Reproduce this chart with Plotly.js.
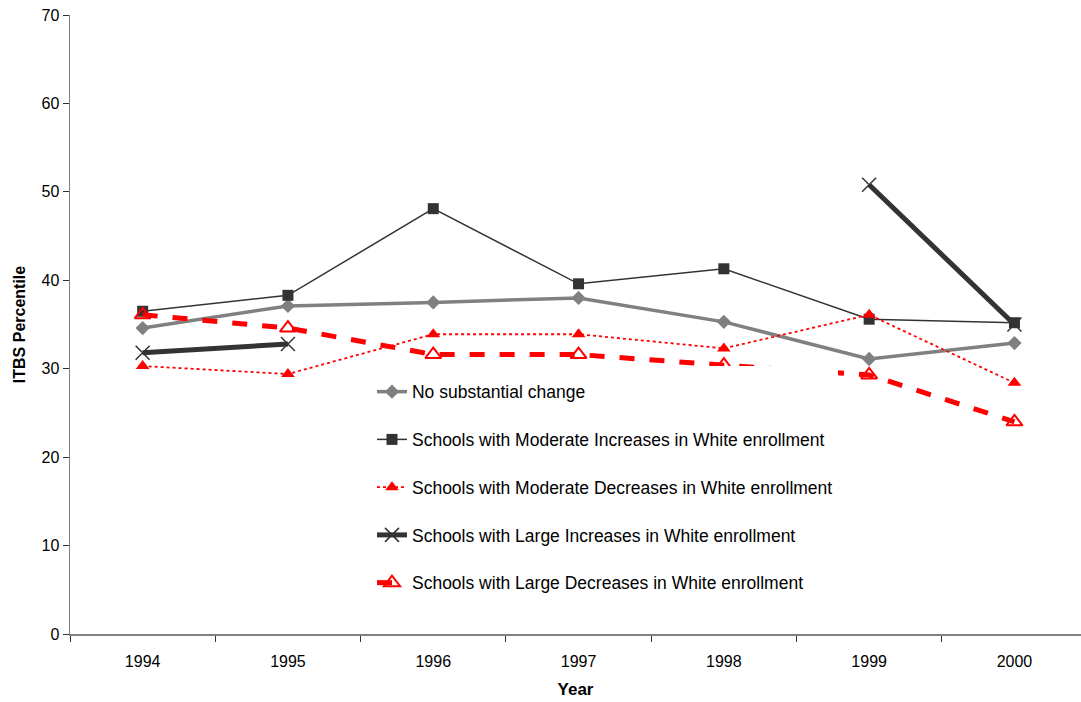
<!DOCTYPE html>
<html>
<head>
<meta charset="utf-8">
<script src="https://cdn.plot.ly/plotly-3.0.1.min.js"></script>
<style>html,body{margin:0;padding:0;background:#fff;}#chart{width:1081px;height:702px;}</style>
</head>
<body>
<div id="chart"></div>
<script>
const years = ["1994", "1995", "1996", "1997", "1998", "1999", "2000"];
const noChange = [34.6, 37.1, 37.5, 38.0, 35.3, 31.1, 32.9];
const modIncreases = [36.5, 38.3, 48.1, 39.6, 41.3, 35.6, 35.2];
const modDecreases = [30.3, 29.4, 33.9, 33.9, 32.3, 36.1, 28.4];
const largeIncreases = [31.8, 32.8, null, null, null, 50.8, 35.0];
const largeDecreases = [36.1, 34.6, 31.6, 31.6, 30.4, 29.3, 24.0];
const names = [
  "No substantial change",
  "Schools with Moderate Increases in White enrollment",
  "Schools with Moderate Decreases in White enrollment",
  "Schools with Large Increases in White enrollment",
  "Schools with Large Decreases in White enrollment"
];

const traces = [
  {x: years, y: noChange, name: names[0], legendgroup: "a", type: "scatter", mode: "lines+markers",
   line: {color: "#808080", width: 3.5}, marker: {symbol: "diamond", size: 11, color: "#808080"}},
  {x: years, y: modIncreases, name: names[1], legendgroup: "b", type: "scatter", mode: "lines+markers",
   line: {color: "#333333", width: 1.5}, marker: {symbol: "square", size: 11, color: "#333333"}},
  {x: years, y: modDecreases, name: names[2], legendgroup: "c", type: "scatter", mode: "lines+markers",
   line: {color: "#ff0000", width: 1.8, dash: "dot"}, marker: {symbol: "triangle-up", size: 12, color: "#ff0000"}},
  {x: years, y: largeIncreases, name: names[3], legendgroup: "d", type: "scatter", mode: "lines+markers",
   connectgaps: false,
   line: {color: "#333333", width: 5}, marker: {symbol: "x-thin-open", size: 14, color: "#333333", line: {width: 1.5, color: "#333333"}}},
  {x: years, y: largeDecreases, name: names[4], legendgroup: "e", type: "scatter", mode: "lines+markers",
   line: {color: "#ff0000", width: 5, dash: "dash"}, marker: {symbol: "triangle-up-open", size: 14, color: "#ff0000", line: {width: 2, color: "#ff0000"}}}
];

const layout = {
  width: 1081, height: 702,
  margin: {l: 70, r: 0, t: 15, b: 68},
  paper_bgcolor: "#ffffff", plot_bgcolor: "#ffffff",
  font: {family: "Liberation Sans, Arial, sans-serif", size: 16, color: "#000000"},
  showlegend: true,
  legend: {
    x: 0.2987, y: 0.433, xanchor: "left", yanchor: "top",
    bgcolor: "#ffffff", borderwidth: 0,
    traceorder: "grouped", tracegroupgap: 22,
    title: {text: " ", font: {size: 6}},
    font: {size: 17.5, color: "#000000"}
  },
  xaxis: {
    type: "category", range: [-0.5, 6.458],
    showline: true, linecolor: "#808080", linewidth: 1.5,
    ticks: "outside", tickson: "boundaries", ticklen: 6, tickcolor: "#333333",
    ticklabelstandoff: 12,
    showgrid: false, zeroline: false,
    tickfont: {size: 16},
    title: {text: "<b>Year</b>", font: {size: 17}, standoff: 14}
  },
  yaxis: {
    range: [0, 70], dtick: 10,
    showline: true, linecolor: "#808080", linewidth: 1.5,
    ticks: "outside", ticklen: 6, tickcolor: "#333333",
    showgrid: false, zeroline: false,
    tickfont: {size: 16},
    title: {text: "<b>ITBS Percentile</b>", font: {size: 16}, standoff: 12}
  }
};

Plotly.newPlot("chart", traces, layout, {displayModeBar: false, staticPlot: true});
</script>
</body>
</html>
